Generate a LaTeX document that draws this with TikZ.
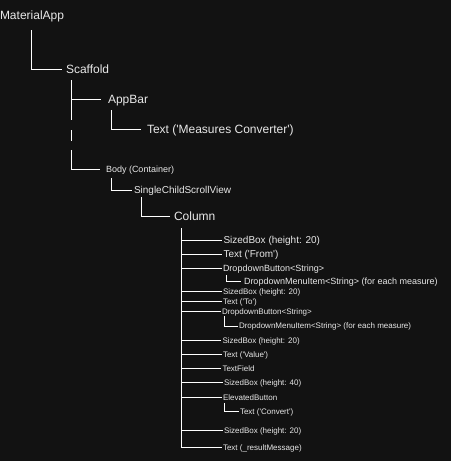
\documentclass[tikz,border=0pt]{standalone}
\usepackage{fontspec}
\setmainfont{Liberation Sans}
\newcommand{\myq}{\textquotesingle}
\definecolor{bg}{HTML}{121212}
\definecolor{txt}{HTML}{E8E8E8}
\tikzset{
  lbl/.style={anchor=west, inner sep=0pt, outer sep=0pt, text=txt, text depth=0pt},
  fa/.style={lbl, font=\fontsize{9}{10}\selectfont, text height=6.5pt},
  fb/.style={lbl, font=\fontsize{7.5}{8.5}\selectfont, text height=5.4pt},
  fc/.style={lbl, font=\fontsize{6.75}{7.5}\selectfont, text height=4.86pt},
  fd/.style={lbl, font=\fontsize{6}{7}\selectfont, text height=4.32pt},
  wire/.style={draw=white, line width=0.75pt, line cap=butt}
}
\begin{document}
\begin{tikzpicture}[x=0.75pt, y=-0.75pt]
\useasboundingbox (0,0) rectangle (451,461);
\fill[bg] (0,0) rectangle (451,461);

% nodes
\node[fa] (ma) at (0,15) {MaterialApp};
\node[fa] (sc) at (66,69) {Scaffold};
\node[fa] (ab) at (108,99) {AppBar};
\node[fa] (tm) at (147,129) {Text (\myq Measures Converter\myq)};
\node[fc] (bd) at (106,169) {Body (Container)};
\node[fb] (sv) at (134,190) {SingleChildScrollView};
\node[fa] (co) at (174,216) {Column};

\node[fb] (s1) at (223.5,240) {SizedBox (height: 20)};
\node[fb] (t1) at (223.5,254) {Text (\myq From\myq)};
\node[fc] (d1) at (223,268) {DropdownButton<String>};
\node[fc] (m1) at (244,281) {DropdownMenuItem<String> (for each measure)};
\node[fd] (s2) at (223,291.5) {SizedBox (height: 20)};
\node[fd] (t2) at (223,301.5) {Text (\myq To\myq)};
\node[fd] (d2) at (222,311.3) {DropdownButton<String>};
\node[fd] (m2) at (239,326) {DropdownMenuItem<String> (for each measure)};
\node[fd] (s3) at (222.5,340.7) {SizedBox (height: 20)};
\node[fd] (t3) at (223,354.3) {Text (\myq Value\myq)};
\node[fd] (tf) at (222.5,368.3) {TextField};
\node[fd] (s4) at (224,382.3) {SizedBox (height: 40)};
\node[fd] (eb) at (223,397.3) {ElevatedButton};
\node[fd] (cv) at (240,411.5) {Text (\myq Convert\myq)};
\node[fd] (s5) at (224,430.3) {SizedBox (height: 20)};
\node[fd] (rm) at (223,447.3) {Text (\_resultMessage)};

% connectors
\draw[wire] (ma.west) ++(31,15) |- ([xshift=-3pt]sc.west);

\path (sc.west) ++(5,11) coordinate (sct);
\draw[wire] (sct) -- ++(0,40);
\draw[wire] (sct) ++(0,50) -- ++(0,11);
\draw[wire] (sct) ++(0,70) |- ([xshift=-4.5pt]bd.west);
\draw[wire] (sct |- ab.west) -- ([xshift=-5.25pt]ab.west);

\draw[wire] (ab.west) ++(3,11) |- ([xshift=-4.5pt]tm.west);
\draw[wire] (bd.west) ++(5.7,9) |- ([xshift=-1.5pt]sv.west);
\draw[wire] (sv.west) ++(7.7,7) |- ([xshift=-3pt]co.west);

\path (co.west) ++(7.7,12) coordinate (cot);
\draw[wire] (cot) -- ++(0,220);
\foreach \c in {s1,t1,d1,s2,t2,d2,s3,t3,tf,s4,eb,s5,rm}{
  \draw[wire] (cot |- \c.west) -- ([xshift=-1pt]\c.west);
}

\draw[wire] (d1.west) ++(3.7,7) |- ([xshift=-2.5pt]m1.west);
\draw[wire] (d2.west) ++(2,5) |- ([xshift=-0.75pt]m2.west);
\draw[wire] (eb.west) ++(1,5.5) |- ([xshift=-0.75pt]cv.west);
\end{tikzpicture}
\end{document}
